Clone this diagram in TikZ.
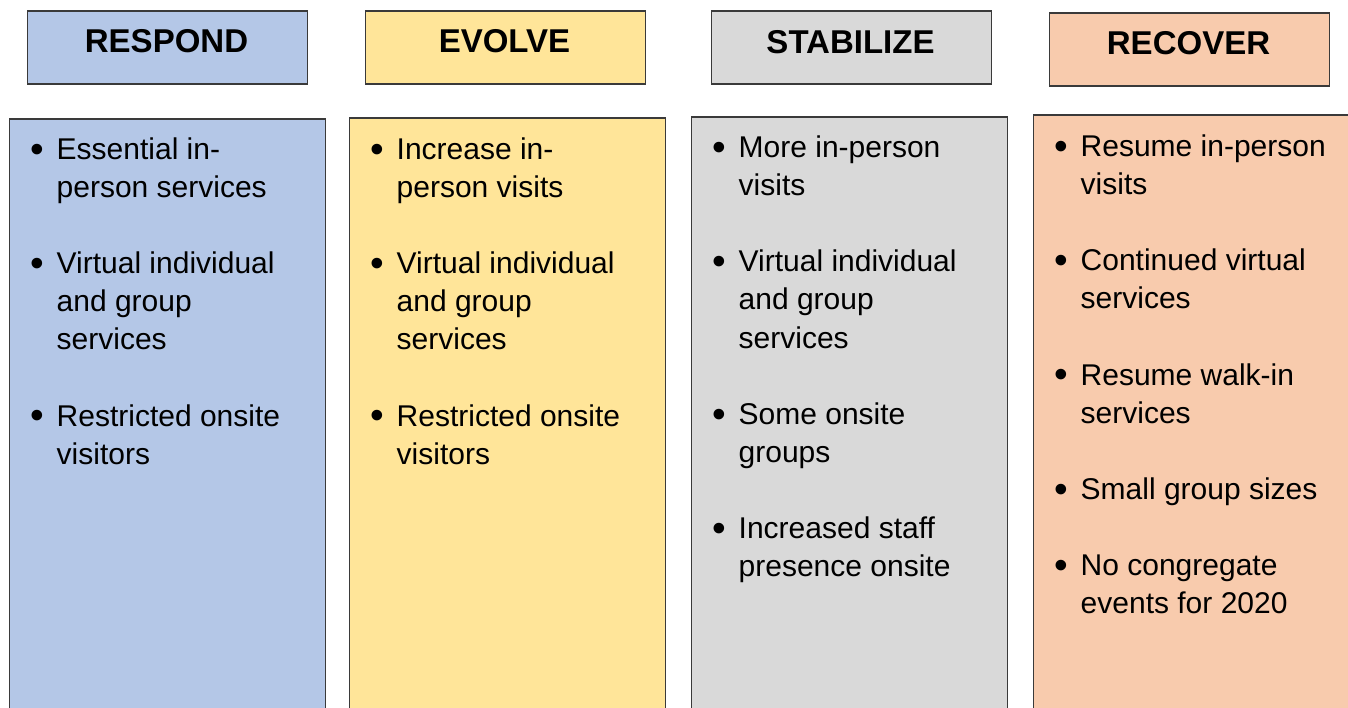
\documentclass[tikz,border=0pt]{standalone}
\usepackage{fontspec}
\setmainfont{Liberation Sans}
\definecolor{cblue}{HTML}{B4C7E7}
\definecolor{cyellow}{HTML}{FFE599}
\definecolor{cgray}{HTML}{D9D9D9}
\definecolor{cpeach}{HTML}{F8CBAD}
\definecolor{edge}{HTML}{3A3A3A}
\tikzset{
  headbox/.style={draw=edge, line width=1.6pt, minimum width=280pt, minimum height=73pt, anchor=north west, inner sep=0pt},
  headtext/.style={font=\fontsize{33}{40}\selectfont\bfseries, anchor=base, inner sep=0pt},
  colbox/.style={draw=edge, line width=1.6pt, minimum width=316pt, minimum height=640pt, anchor=north west, inner sep=0pt},
  item/.style={font=\fontsize{30}{38.1}\selectfont, align=left, anchor=base west, inner sep=0pt},
}
\newcommand{\bul}{\llap{\raisebox{-2.8pt}{\scalebox{1.3}{•}}\hspace{12.7pt}}}
\begin{document}
\begin{tikzpicture}[x=1pt,y=-1pt]
\useasboundingbox (0,0) rectangle (1348,708);
\clip (0,0) rectangle (1348,708);
% headers
\node[headbox, fill=cblue]   (h1) at (26.5,10.5) {};
\node[headbox, fill=cyellow] (h2) at (364.5,10.5) {};
\node[headbox, fill=cgray]   (h3) at (710.5,10.5) {};
\node[headbox, fill=cpeach]  (h4) at (1048.5,12.5) {};
\node[headtext] (t1) at (166.5,53) {RESPOND};
\node[headtext] (t2) at (504.5,53) {EVOLVE};
\node[headtext] (t3) at (850.5,54) {STABILIZE};
\node[headtext] (t4) at (1188.5,55) {RECOVER};
% columns
\node[colbox, fill=cblue]   (c1) at (8.5,118) {};
\node[colbox, fill=cyellow] (c2) at (348.5,117.5) {};
\node[colbox, fill=cgray]   (c3) at (690.5,116.5) {};
\node[colbox, minimum width=340pt, fill=cpeach]  (c4) at (1032.5,114.5) {};
% RESPOND items (anchor = baseline of last line)
\node[item] (a1) at (56.5,197.4) {\bul Essential in-\\person services};
\node[item] (a2) at (56.5,349.8) {\bul Virtual individual\\and group\\services};
\node[item] (a3) at (56.5,464.1) {\bul Restricted onsite\\visitors};
% EVOLVE items
\node[item] (b1) at (396.5,197.4) {\bul Increase in-\\person visits};
\node[item] (b2) at (396.5,349.8) {\bul Virtual individual\\and group\\services};
\node[item] (b3) at (396.5,464.1) {\bul Restricted onsite\\visitors};
% STABILIZE items
\node[item] (s1) at (738.5,195.6) {\bul More in-person\\visits};
\node[item] (s2) at (738.5,348.0) {\bul Virtual individual\\and group\\services};
\node[item] (s3) at (738.5,462.3) {\bul Some onsite\\groups};
\node[item] (s4) at (738.5,576.6) {\bul Increased staff\\presence onsite};
% RECOVER items
\node[item] (r1) at (1080.5,194.6) {\bul Resume in-person\\visits};
\node[item] (r2) at (1080.5,308.9) {\bul Continued virtual\\services};
\node[item] (r3) at (1080.5,423.2) {\bul Resume walk-in\\services};
\node[item] (r4) at (1080.5,499.4) {\bul Small group sizes};
\node[item] (r5) at (1080.5,613.7) {\bul No congregate\\events for 2020};
\end{tikzpicture}
\end{document}
